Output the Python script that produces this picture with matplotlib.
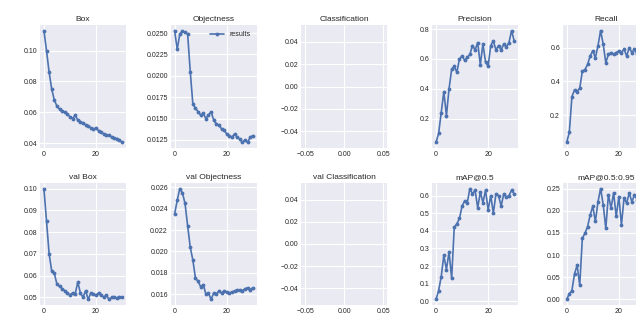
import numpy as np
import matplotlib
matplotlib.use("Agg")
import matplotlib.pyplot as plt
from matplotlib.ticker import MaxNLocator

titles = ["Box", "Objectness", "Classification", "Precision", "Recall",
          "val Box", "val Objectness", "val Classification", "mAP@0.5", "mAP@0.5:0.95"]

epochs = list(range(31))

box = [0.113, 0.100, 0.086, 0.075, 0.068, 0.064, 0.062, 0.061, 0.060, 0.059,
       0.057, 0.056, 0.058, 0.055, 0.054, 0.053, 0.052, 0.051, 0.050, 0.049,
       0.050, 0.048, 0.047, 0.046, 0.0455, 0.045, 0.044, 0.0435, 0.043, 0.042, 0.0405]

objectness = [0.0253, 0.0231, 0.0249, 0.0252, 0.0251, 0.0249, 0.0205, 0.0167, 0.0162, 0.0158,
              0.0154, 0.0156, 0.0150, 0.0154, 0.0158, 0.0148, 0.0144, 0.0142, 0.0138, 0.0136,
              0.0132, 0.0130, 0.0128, 0.0132, 0.0128, 0.0126, 0.0122, 0.0125, 0.0122, 0.0128, 0.0130]

classification = [np.nan] * 31

precision = [0.04, 0.10, 0.24, 0.38, 0.22, 0.40, 0.53, 0.55, 0.51, 0.60,
             0.62, 0.59, 0.61, 0.63, 0.69, 0.66, 0.71, 0.56, 0.70, 0.58,
             0.55, 0.69, 0.72, 0.66, 0.69, 0.66, 0.70, 0.68, 0.71, 0.79, 0.72]

recall = [0.04, 0.10, 0.31, 0.35, 0.34, 0.36, 0.46, 0.47, 0.50, 0.55,
          0.58, 0.54, 0.61, 0.70, 0.62, 0.51, 0.56, 0.57, 0.56, 0.57,
          0.58, 0.57, 0.59, 0.55, 0.60, 0.57, 0.59, 0.56, 0.60, 0.58, 0.61]

val_box = [0.100, 0.085, 0.070, 0.062, 0.061, 0.056, 0.055, 0.054, 0.053, 0.052,
           0.051, 0.052, 0.0515, 0.057, 0.052, 0.050, 0.053, 0.049, 0.052, 0.0515,
           0.051, 0.052, 0.051, 0.050, 0.051, 0.049, 0.050, 0.050, 0.0497, 0.0503, 0.050]

val_objectness = [0.0235, 0.0248, 0.0259, 0.0255, 0.0245, 0.0224, 0.0204, 0.0192, 0.0175, 0.0172,
                  0.0167, 0.0169, 0.0160, 0.0161, 0.0155, 0.0161, 0.0160, 0.0163, 0.0161, 0.0163,
                  0.0162, 0.0161, 0.0162, 0.0163, 0.0164, 0.0164, 0.0163, 0.0165, 0.0166, 0.0164, 0.0166]

val_classification = [np.nan] * 31

map50 = [0.01, 0.06, 0.14, 0.26, 0.18, 0.28, 0.13, 0.42, 0.44, 0.47,
         0.54, 0.57, 0.56, 0.64, 0.61, 0.63, 0.53, 0.62, 0.56, 0.63,
         0.52, 0.60, 0.50, 0.61, 0.60, 0.54, 0.61, 0.59, 0.60, 0.63, 0.61]

map5095 = [0.000, 0.013, 0.020, 0.058, 0.077, 0.032, 0.138, 0.149, 0.164, 0.190,
           0.210, 0.176, 0.220, 0.250, 0.214, 0.160, 0.236, 0.206, 0.240, 0.187,
           0.232, 0.168, 0.229, 0.217, 0.240, 0.220, 0.236, 0.225, 0.238, 0.230, 0.233]

series = [box, objectness, classification, precision, recall,
          val_box, val_objectness, val_classification, map50, map5095]

plt.style.use("seaborn-v0_8-darkgrid")
plt.rcParams.update({"xtick.labelsize": 5, "ytick.labelsize": 5,
                     "axes.titlesize": 6, "legend.fontsize": 5})

W, H = 636, 320
fig = plt.figure(figsize=(W / 100, H / 100), dpi=100)

col_left = [40 + 130.7 * c for c in range(5)]
ax_w = 86
rows = [(25, 148), (183, 305)]

axes = []
for r, (top, bot) in enumerate(rows):
    for c in range(5):
        ax = fig.add_axes([col_left[c] / W, (H - bot) / H, ax_w / W, (bot - top) / H])
        axes.append(ax)

for ax, s, t in zip(axes, series, titles):
    ax.plot(epochs, s, marker=".", label="results", linewidth=1.2, markersize=3.5,
            color="#4C72B0")
    ax.set_title(t, pad=3)
    if all(np.isnan(v) for v in s):
        ax.set_xlim(-0.055, 0.055)
        ax.set_ylim(-0.055, 0.055)
    ax.xaxis.set_major_locator(MaxNLocator(nbins=3, steps=[1, 2, 2.5, 5, 10]))
    ax.yaxis.set_major_locator(MaxNLocator(nbins=7, steps=[1, 2, 2.5, 5, 10]))
    ax.tick_params(pad=2)

axes[1].legend(loc="upper right")
fig.savefig("out.png", dpi=100)
